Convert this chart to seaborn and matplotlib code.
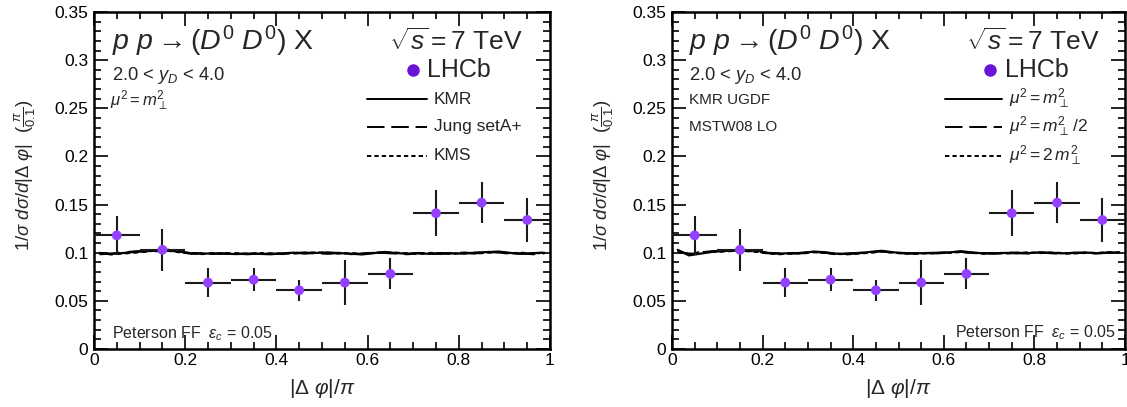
import numpy as np
import pandas as pd
import matplotlib
matplotlib.use("Agg")
import matplotlib.pyplot as plt
from matplotlib.ticker import MultipleLocator, FixedLocator, FixedFormatter
import seaborn as sns

# ---------------- data ----------------
bin_centers = [0.05, 0.15, 0.25, 0.35, 0.45, 0.55, 0.65, 0.75, 0.85, 0.95]
bin_halfwidth = [0.05] * 10
lhcb_values = [0.118, 0.103, 0.069, 0.072, 0.061, 0.069, 0.078, 0.141, 0.152, 0.134]
lhcb_errors = [0.020, 0.022, 0.015, 0.012, 0.011, 0.023, 0.016, 0.024, 0.021, 0.023]

curve_x = [0.0125, 0.0375, 0.0625, 0.0875, 0.1125, 0.1375, 0.1625, 0.1875, 0.2125, 0.2375,
           0.2625, 0.2875, 0.3125, 0.3375, 0.3625, 0.3875, 0.4125, 0.4375, 0.4625, 0.4875,
           0.5125, 0.5375, 0.5625, 0.5875, 0.6125, 0.6375, 0.6625, 0.6875, 0.7125, 0.7375,
           0.7625, 0.7875, 0.8125, 0.8375, 0.8625, 0.8875, 0.9125, 0.9375, 0.9625, 0.9875]

# left panel: different UGDFs
kmr_left = [0.0992, 0.0988, 0.0996, 0.1008, 0.1015, 0.1022, 0.1030, 0.1012, 0.0994, 0.0990,
            0.0993, 0.0989, 0.0986, 0.0991, 0.0988, 0.0984, 0.0993, 0.1000, 0.0992, 0.0998,
            0.1003, 0.0996, 0.0990, 0.0982, 0.0995, 0.1008, 0.0996, 0.0990, 0.0994, 0.0988,
            0.0996, 0.0993, 0.0990, 0.1002, 0.1006, 0.1012, 0.0998, 0.0988, 0.0996, 0.0999]
jung_left = [0.0985, 0.0990, 0.1002, 0.1012, 0.1020, 0.1016, 0.1025, 0.1008, 0.0990, 0.0995,
             0.0988, 0.0994, 0.0990, 0.0985, 0.0992, 0.0990, 0.0987, 0.0996, 0.1002, 0.0994,
             0.0990, 0.0998, 0.0986, 0.0990, 0.1003, 0.0998, 0.0992, 0.0985, 0.0997, 0.0991,
             0.0988, 0.0996, 0.1000, 0.0994, 0.1008, 0.1003, 0.0990, 0.0994, 0.0985, 0.0992]
kms_left = [0.0998, 0.0982, 0.0992, 0.1000, 0.1010, 0.1025, 0.1020, 0.1005, 0.0997, 0.0986,
            0.0996, 0.0992, 0.0995, 0.0988, 0.0996, 0.0992, 0.0990, 0.0993, 0.0997, 0.1004,
            0.0996, 0.0992, 0.0995, 0.0990, 0.0998, 0.1002, 0.1000, 0.0993, 0.0989, 0.0997,
            0.0994, 0.0990, 0.0998, 0.0992, 0.1000, 0.1008, 0.0994, 0.0999, 0.0990, 0.1002]

# right panel: scale variations
mu1_right = [0.1030, 0.0972, 0.0990, 0.1008, 0.1018, 0.1022, 0.1028, 0.1020, 0.0998, 0.0990,
             0.0996, 0.0995, 0.1012, 0.1005, 0.0990, 0.0988, 0.0995, 0.1008, 0.1020, 0.1005,
             0.0994, 0.0993, 0.0997, 0.1000, 0.1003, 0.1015, 0.1003, 0.0993, 0.0995, 0.0998,
             0.0994, 0.0997, 0.1002, 0.0999, 0.0994, 0.0997, 0.1002, 0.0995, 0.0999, 0.1005]
mu_half_right = [0.1015, 0.0985, 0.1000, 0.1015, 0.1020, 0.1025, 0.1022, 0.1012, 0.0995, 0.0994,
                 0.0990, 0.1000, 0.1010, 0.1000, 0.0985, 0.0992, 0.0998, 0.1004, 0.1015, 0.1000,
                 0.0997, 0.0990, 0.0996, 0.0994, 0.1005, 0.1010, 0.0998, 0.0996, 0.0990, 0.1002,
                 0.1000, 0.0992, 0.1004, 0.0995, 0.0990, 0.1000, 0.0997, 0.0993, 0.1002, 0.1000]
mu_two_right = [0.1008, 0.0990, 0.1005, 0.1010, 0.1012, 0.1020, 0.1018, 0.1008, 0.0993, 0.0985,
                0.0994, 0.0992, 0.1006, 0.0998, 0.0988, 0.0984, 0.0992, 0.1000, 0.1012, 0.1002,
                0.0990, 0.0996, 0.0992, 0.0998, 0.0999, 0.1008, 0.0999, 0.0990, 0.0997, 0.0993,
                0.0998, 0.1003, 0.0997, 0.1001, 0.0996, 0.0993, 0.0999, 0.0997, 0.1004, 0.1002]

left_labels = ["KMR", "Jung setA+", "KMS"]
right_labels = [r"$\mu^2 = m_{\perp}^2$", r"$\mu^2 = m_{\perp}^2\,/2$", r"$\mu^2 = 2\,m_{\perp}^2$"]
y_ticks = [0, 0.05, 0.1, 0.15, 0.2, 0.25, 0.3, 0.35]
y_tick_labels = ["0", "0.05", "0.1", "0.15", "0.2", "0.25", "0.3", "0.35"]
x_ticks = [0, 0.2, 0.4, 0.6, 0.8, 1.0]
x_tick_labels = ["0", "0.2", "0.4", "0.6", "0.8", "1"]

# ---------------- style ----------------
sns.set_theme(style="ticks")
plt.rcParams["font.family"] = ["Liberation Sans", "DejaVu Sans"]
plt.rcParams["mathtext.fontset"] = "custom"
plt.rcParams["mathtext.rm"] = "Liberation Sans"
plt.rcParams["mathtext.it"] = "Liberation Sans:italic"
plt.rcParams["mathtext.bf"] = "Liberation Sans:bold"

DATA_COLOR = "#9340ff"
LEG_COLOR = "#6a14d8"
LINE_STYLES = ["-", (0, (9, 3.5)), (0, (2.2, 1.6))]

fig = plt.figure(figsize=(11.27, 4.07), dpi=100)
W, H = 1127.0, 407.0

def axes_px(x0, x1, y0, y1):
    return fig.add_axes([x0 / W, 1 - y1 / H, (x1 - x0) / W, (y1 - y0) / H])

axL = axes_px(94, 550, 12, 349)
axR = axes_px(672, 1125, 12, 349)

def ax_frac(ax, xpx, ypx):
    bb = ax.get_position()
    fx = (xpx / W - bb.x0) / bb.width
    fy = ((1 - ypx / H) - bb.y0) / bb.height
    return fx, fy

def draw_panel(ax, curves, title_x, sqrt_right):
    for ys, ls in zip(curves, LINE_STYLES):
        df = pd.DataFrame({"x": curve_x, "y": ys})
        sns.lineplot(data=df, x="x", y="y", ax=ax, color="black", lw=1.6,
                     linestyle=ls, legend=False)
    ax.errorbar(bin_centers, lhcb_values, xerr=bin_halfwidth, yerr=lhcb_errors,
                fmt="none", ecolor="#1a1a1a", elinewidth=1.5, capsize=0, zorder=3)
    dfp = pd.DataFrame({"x": bin_centers, "y": lhcb_values})
    sns.scatterplot(data=dfp, x="x", y="y", ax=ax, color=DATA_COLOR, s=50,
                    edgecolor="none", zorder=4, legend=False)
    ax.set_xlim(0, 1)
    ax.set_ylim(0, 0.35)
    ax.xaxis.set_major_locator(FixedLocator(x_ticks))
    ax.xaxis.set_major_formatter(FixedFormatter(x_tick_labels))
    ax.yaxis.set_major_locator(FixedLocator(y_ticks))
    ax.yaxis.set_major_formatter(FixedFormatter(y_tick_labels))
    ax.xaxis.set_minor_locator(MultipleLocator(0.05))
    ax.yaxis.set_minor_locator(MultipleLocator(0.01))
    ax.tick_params(which="both", direction="in", top=True, right=True,
                   labelsize=12.5, colors="black", width=1.2)
    ax.tick_params(which="major", length=10, pad=4)
    ax.tick_params(which="minor", length=5)
    ax.tick_params(axis="x", which="major", pad=3)
    for sp in ax.spines.values():
        sp.set_linewidth(1.8)
        sp.set_color("black")
    ax.set_xlabel(r"$|\Delta\ \varphi|/\pi$", fontsize=15)
    ax.xaxis.label.set_va("center")
    ax.xaxis.set_label_coords(0.5, -0.118)
    ax.set_ylabel(r"$1/\sigma\ d\sigma/d|\Delta\ \varphi|\ \ (\frac{\pi}{0.1})$", fontsize=13.3)
    ax.yaxis.label.set_va("center")
    ax.yaxis.set_label_coords(-0.152, 0.516)

    fx, fy = ax_frac(ax, title_x, 50)
    ax.text(fx, fy, r"$p\ p \rightarrow (D^0\ D^0)$ X", transform=ax.transAxes,
            fontsize=20.5, va="baseline", ha="left")
    fx, _ = ax_frac(ax, sqrt_right, 50)
    ax.text(fx, fy, r"$\sqrt{s} = 7$ TeV", transform=ax.transAxes,
            fontsize=19, va="baseline", ha="right")
    fx, fy = ax_frac(ax, title_x, 76)
    ax.text(fx, fy, r"2.0 < $y_D$ < 4.0", transform=ax.transAxes,
            fontsize=13.2, va="center", ha="left")

draw_panel(axL, [kmr_left, jung_left, kms_left], 112, 523)
draw_panel(axR, [mu1_right, mu_half_right, mu_two_right], 689, 1100)

def add_legend(ax, x_marker, x_text, line_x0, line_x1, rows_y, labels, lhcb_y, label_size):
    fx, fy = ax_frac(ax, x_marker, lhcb_y)
    ax.plot([fx], [fy], "o", color=LEG_COLOR, ms=8, transform=ax.transAxes, clip_on=False)
    tx, _ = ax_frac(ax, x_text, lhcb_y)
    ax.text(tx, fy, "LHCb", transform=ax.transAxes, fontsize=18, va="center", ha="left")
    for ypx, lab, ls in zip(rows_y, labels, LINE_STYLES):
        a0, fy = ax_frac(ax, line_x0, ypx)
        a1, _ = ax_frac(ax, line_x1, ypx)
        ax.plot([a0, a1], [fy, fy], color="black", lw=1.4, linestyle=ls,
                transform=ax.transAxes)
        t0, _ = ax_frac(ax, line_x1 + 7, ypx)
        ax.text(t0, fy, lab, transform=ax.transAxes, fontsize=label_size,
                va="center", ha="left")

add_legend(axL, 413, 427, 367, 427, [99, 127, 156], left_labels, 70, 12.5)
add_legend(axR, 990, 1005, 945, 1002, [99, 127, 156], right_labels, 12.5 and 70, 12.5)

# extra annotations
fx, fy = ax_frac(axL, 110, 101)
axL.text(fx, fy, r"$\mu^2 = m_{\perp}^2$", transform=axL.transAxes, fontsize=12,
         va="center", ha="left")
fx, fy = ax_frac(axR, 689, 100)
axR.text(fx, fy, "KMR UGDF", transform=axR.transAxes, fontsize=11, va="center", ha="left")
fx, fy = ax_frac(axR, 689, 127)
axR.text(fx, fy, "MSTW08 LO", transform=axR.transAxes, fontsize=11, va="center", ha="left")

fx, fy = ax_frac(axL, 112, 334)
axL.text(fx, fy, r"Peterson FF  $\varepsilon_c$ = 0.05", transform=axL.transAxes,
         fontsize=11.5, va="center", ha="left")
fx, fy = ax_frac(axR, 1116, 333)
axR.text(fx, fy, r"Peterson FF  $\varepsilon_c$ = 0.05", transform=axR.transAxes,
         fontsize=11.5, va="center", ha="right")

fig.savefig("out.png", dpi=100)
